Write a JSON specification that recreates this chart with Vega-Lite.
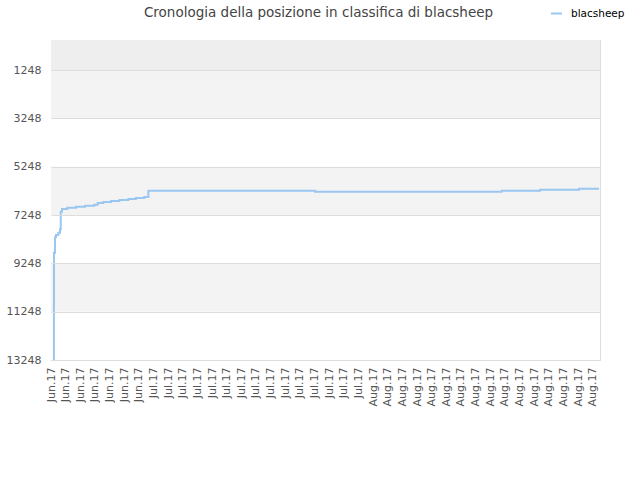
{
  "$schema": "https://vega.github.io/schema/vega-lite/v6.json",
  "width": 549,
  "height": 320,
  "autosize": {"type": "none"},
  "padding": {"left": 51, "top": 40, "right": 40, "bottom": 120},
  "background": "white",
  "config": {
    "font": "DejaVu Sans",
    "view": {"stroke": "#dddddd", "strokeWidth": 1}
  },
  "title": {
    "text": "Cronologia della posizione in classifica di blacsheep",
    "anchor": "middle",
    "fontSize": 13.5,
    "fontWeight": "normal",
    "color": "#444444",
    "font": "DejaVu Sans",
    "offset": -12,
    "dx": -7
  },
  "datasets": {
    "bands": [
      {"y0": 0, "y1": 1248, "shade": "a"},
      {"y0": 1248, "y1": 3248, "shade": "b"},
      {"y0": 3248, "y1": 5248, "shade": "c"},
      {"y0": 5248, "y1": 7248, "shade": "b"},
      {"y0": 7248, "y1": 9248, "shade": "c"},
      {"y0": 9248, "y1": 11248, "shade": "b"},
      {"y0": 11248, "y1": 13248, "shade": "c"}
    ],
    "rank": [
      {"date": "2017-06-18T09:07:00", "rank": 13248, "player": "blacsheep"},
      {"date": "2017-06-18T09:36:00", "rank": 11000, "player": "blacsheep"},
      {"date": "2017-06-18T09:50:00", "rank": 8808, "player": "blacsheep"},
      {"date": "2017-06-18T13:12:00", "rank": 8171, "player": "blacsheep"},
      {"date": "2017-06-18T16:19:00", "rank": 8076, "player": "blacsheep"},
      {"date": "2017-06-19T00:00:00", "rank": 7981, "player": "blacsheep"},
      {"date": "2017-06-19T05:31:00", "rank": 7840, "player": "blacsheep"},
      {"date": "2017-06-19T07:55:00", "rank": 7112, "player": "blacsheep"},
      {"date": "2017-06-19T12:00:00", "rank": 7000, "player": "blacsheep"},
      {"date": "2017-06-20T05:31:00", "rank": 6946, "player": "blacsheep"},
      {"date": "2017-06-21T10:05:00", "rank": 6905, "player": "blacsheep"},
      {"date": "2017-06-22T15:22:00", "rank": 6863, "player": "blacsheep"},
      {"date": "2017-06-23T22:05:00", "rank": 6822, "player": "blacsheep"},
      {"date": "2017-06-24T09:07:00", "rank": 6752, "player": "blacsheep"},
      {"date": "2017-06-25T03:22:00", "rank": 6710, "player": "blacsheep"},
      {"date": "2017-06-26T04:48:00", "rank": 6669, "player": "blacsheep"},
      {"date": "2017-06-27T07:55:00", "rank": 6627, "player": "blacsheep"},
      {"date": "2017-06-28T13:26:00", "rank": 6586, "player": "blacsheep"},
      {"date": "2017-06-29T14:24:00", "rank": 6545, "player": "blacsheep"},
      {"date": "2017-06-30T18:00:00", "rank": 6503, "player": "blacsheep"},
      {"date": "2017-07-01T07:12:00", "rank": 6243, "player": "blacsheep"},
      {"date": "2017-07-24T01:41:00", "rank": 6284, "player": "blacsheep"},
      {"date": "2017-08-18T13:41:00", "rank": 6243, "player": "blacsheep"},
      {"date": "2017-08-23T19:12:00", "rank": 6201, "player": "blacsheep"},
      {"date": "2017-08-29T03:07:00", "rank": 6160, "player": "blacsheep"},
      {"date": "2017-08-31T20:38:00", "rank": 6160, "player": "blacsheep"}
    ]
  },
  "resolve": {"axis": {"y": "independent"}},
  "layer": [
    {
      "data": {"name": "bands"},
      "mark": {"type": "rect", "strokeWidth": 0},
      "encoding": {
        "y": {"field": "y0", "type": "quantitative", "scale": {"domain": [0, 13248], "reverse": true, "nice": false, "zero": false}, "axis": null},
        "y2": {"field": "y1"},
        "fill": {"field": "shade", "type": "nominal", "scale": {"domain": ["a", "b", "c"], "range": ["#eeeeee", "#f3f3f3", "#ffffff"]}, "legend": null}
      }
    },
    {
      "data": {"name": "rank"},
      "mark": {"type": "line", "interpolate": "step-after", "strokeWidth": 2},
      "encoding": {
        "x": {
          "field": "date",
          "type": "temporal",
          "scale": {"domain": [{"year": 2017, "month": 6, "date": 18}, {"year": 2017, "month": 9, "date": 1}]},
          "axis": {
            "title": null,
            "format": "%b.%y",
            "labelAngle": 270,
            "labelAlign": "right",
            "labelBaseline": "middle",
            "labelFontSize": 11,
            "labelColor": "#555555",
            "labelPadding": 7,
            "labelOverlap": false,
            "labelFlush": false,
            "ticks": false,
            "domain": false,
            "grid": false,
            "values": [
              {"year": 2017, "month": 6, "date": 18}, {"year": 2017, "month": 6, "date": 20}, {"year": 2017, "month": 6, "date": 22},
              {"year": 2017, "month": 6, "date": 24}, {"year": 2017, "month": 6, "date": 26}, {"year": 2017, "month": 6, "date": 28},
              {"year": 2017, "month": 6, "date": 30}, {"year": 2017, "month": 7, "date": 2}, {"year": 2017, "month": 7, "date": 4},
              {"year": 2017, "month": 7, "date": 6}, {"year": 2017, "month": 7, "date": 8}, {"year": 2017, "month": 7, "date": 10},
              {"year": 2017, "month": 7, "date": 12}, {"year": 2017, "month": 7, "date": 14}, {"year": 2017, "month": 7, "date": 16},
              {"year": 2017, "month": 7, "date": 18}, {"year": 2017, "month": 7, "date": 20}, {"year": 2017, "month": 7, "date": 22},
              {"year": 2017, "month": 7, "date": 24}, {"year": 2017, "month": 7, "date": 26}, {"year": 2017, "month": 7, "date": 28},
              {"year": 2017, "month": 7, "date": 30}, {"year": 2017, "month": 8, "date": 1}, {"year": 2017, "month": 8, "date": 3},
              {"year": 2017, "month": 8, "date": 5}, {"year": 2017, "month": 8, "date": 7}, {"year": 2017, "month": 8, "date": 9},
              {"year": 2017, "month": 8, "date": 11}, {"year": 2017, "month": 8, "date": 13}, {"year": 2017, "month": 8, "date": 15},
              {"year": 2017, "month": 8, "date": 17}, {"year": 2017, "month": 8, "date": 19}, {"year": 2017, "month": 8, "date": 21},
              {"year": 2017, "month": 8, "date": 23}, {"year": 2017, "month": 8, "date": 25}, {"year": 2017, "month": 8, "date": 27},
              {"year": 2017, "month": 8, "date": 29}, {"year": 2017, "month": 8, "date": 31}
            ]
          }
        },
        "y": {
          "field": "rank",
          "type": "quantitative",
          "scale": {"domain": [0, 13248], "reverse": true, "nice": false, "zero": false},
          "axis": {
            "title": null,
            "values": [1248, 3248, 5248, 7248, 9248, 11248, 13248],
            "format": "d",
            "labelFontSize": 11,
            "labelColor": "#555555",
            "labelPadding": 10,
            "ticks": false,
            "domain": false,
            "grid": true,
            "gridColor": "#dddddd",
            "gridWidth": 1,
            "zindex": 1
          }
        },
        "color": {
          "field": "player",
          "type": "nominal",
          "scale": {"range": ["#9ac7f2"]},
          "legend": {
            "title": null,
            "orient": "none",
            "legendX": 499,
            "legendY": -33,
            "symbolType": "stroke",
            "symbolSize": 120,
            "symbolStrokeWidth": 2,
            "labelOffset": 8,
            "labelFontSize": 10.5,
            "labelColor": "#000000",
            "labelFont": "DejaVu Sans"
          }
        }
      }
    }
  ]
}
